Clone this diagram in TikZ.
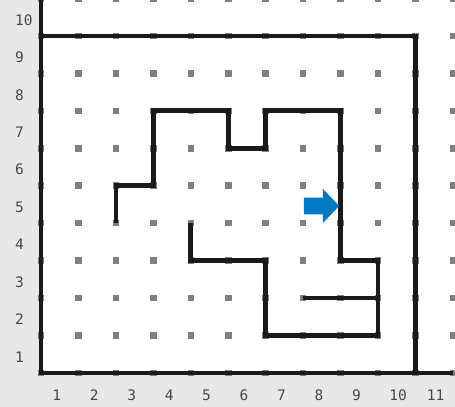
\documentclass[tikz,border=0pt]{standalone}
\usepackage{fontspec}
\newfontfamily\axisfont{DejaVu Sans Mono}
\definecolor{wallblack}{RGB}{26,26,26}
\definecolor{dotgray}{RGB}{128,128,128}
\definecolor{panelgray}{RGB}{232,232,232}
\definecolor{arrowblue}{RGB}{0,122,194}
\begin{document}
\begin{tikzpicture}[
    x=37.45pt, y=37.45pt,
    dot/.style={fill=dotgray, minimum size=6.5pt, inner sep=0, outer sep=0},
    wall/.style={draw=wallblack, line width=4.7pt, line join=miter},
    lbl/.style={anchor=west, inner sep=0, text=black!72, font=\axisfont\fontsize{14.5}{16}\selectfont}
]
    % grey frame round the plot area
    \useasboundingbox[fill=panelgray] (-1.095,-0.908) rectangle (11.055,9.96);
    \fill[white] (0,0) rectangle (11.055,9.96);

    % grid of dots
    \foreach \i in {0,...,11}
        \foreach \j in {0,...,10}
            \node[dot] (d-\i-\j) at (\i,\j) {};

    % axis labels
    \foreach \k in {1,...,10}
        \node[lbl] (yl\k) at (-0.694,\k-0.57) {\k};
    \foreach \k in {1,...,11}
        \node[lbl] (xl\k) at (\k-0.7,-0.6) {\k};

    % axes and outer box
    \draw[wall] (d-0-10.center) -- (d-0-0.center) -- (d-11-0.center);
    \draw[wall] (d-0-9.center) -- (d-10-9.center) -- (d-10-0.center);

    % the maze walls
    \draw[wall] (d-2-4.center) -- (d-2-5.center) -- (d-3-5.center) -- (d-3-7.center)
        -- (d-5-7.center) -- (d-5-6.center) -- (d-6-6.center) -- (d-6-7.center)
        -- (d-8-7.center) -- (d-8-3.center) -- (d-9-3.center) -- (d-9-1.center)
        -- (d-6-1.center) -- (d-6-3.center) -- (d-4-3.center) -- (d-4-4.center);
    \draw[wall] (d-7-2.center) -- (d-9-2.center);

    % blue arrow at the entrance
    \fill[arrowblue] (7.02,4.235) -- (7.53,4.235) -- (7.53,4.005) -- (7.96,4.46)
        -- (7.53,4.915) -- (7.53,4.685) -- (7.02,4.685) -- cycle;
\end{tikzpicture}
\end{document}
